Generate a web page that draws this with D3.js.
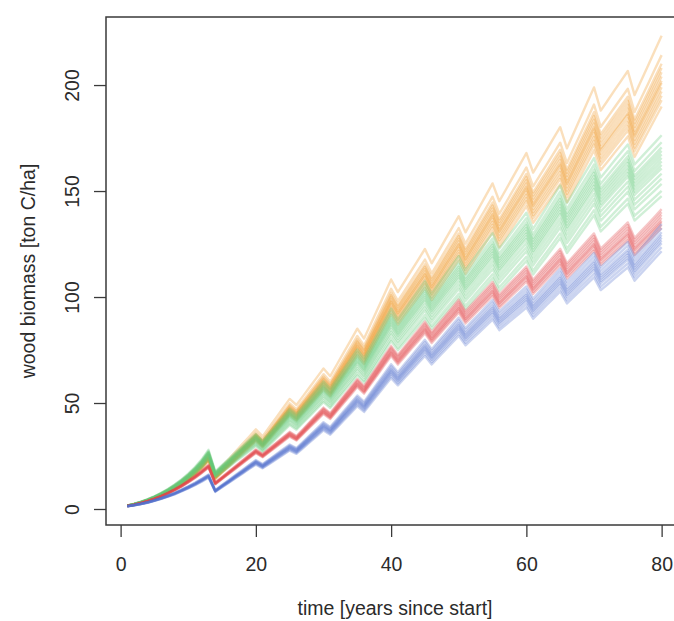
<!DOCTYPE html>
<html>
<head>
<meta charset="utf-8">
<script src="https://cdn.jsdelivr.net/npm/d3@7"></script>
<style>
  html, body { margin: 0; padding: 0; background: #fff; }
  svg { display: block; }
  text { font-family: "Liberation Sans", Arial, Helvetica, sans-serif; fill: #2b2b2b; }
</style>
</head>
<body>
<svg id="chart" width="674" height="621"></svg>
<script>
// Simulation years
const years = d3.range(1, 81);

// Ensemble median wood biomass [ton C/ha] per scenario, years 1..80
const orangeMedian = [
  1.5, 2.2, 3.0, 4.0, 5.2, 6.6, 8.2, 10.0, 12.1, 14.5, 17.2, 20.3, 24.0,
  15.0, 18.2, 21.3, 24.5, 27.7, 30.8, 34.0,
  31.0, 35.0, 39.0, 43.0, 47.0,
  44.4, 48.3, 52.2, 56.1, 60.0,
  56.7, 61.8, 66.9, 71.9, 77.0,
  72.8, 79.1, 85.4, 91.7, 98.0,
  92.6, 97.2, 101.8, 106.4, 111.0,
  104.9, 109.9, 115.0, 120.0, 125.0,
  118.1, 123.3, 128.6, 133.8, 139.0,
  131.4, 136.5, 141.7, 146.8, 152.0,
  143.6, 148.5, 153.3, 158.2, 163.0,
  154.0, 160.5, 167.0, 173.5, 180.0,
  170.1, 174.3, 178.6, 182.8, 187.0,
  176.7, 183.0, 189.3, 195.7, 202.0
];
const greenMedian = [
  1.5, 2.3, 3.2, 4.3, 5.6, 7.1, 8.8, 10.8, 13.0, 15.5, 18.4, 21.8, 26.0,
  16.5, 19.3, 22.0, 24.8, 27.5, 30.3, 33.0,
  30.0, 33.5, 37.0, 40.5, 44.0,
  41.6, 45.2, 48.8, 52.4, 56.0,
  52.9, 57.2, 61.5, 65.7, 70.0,
  66.2, 71.6, 77.1, 82.5, 88.0,
  83.2, 87.4, 91.6, 95.8, 100.0,
  94.5, 98.6, 102.8, 106.9, 111.0,
  104.9, 108.9, 113.0, 117.0, 121.0,
  114.3, 118.2, 122.2, 126.1, 130.0,
  122.9, 127.7, 132.4, 137.2, 142.0,
  134.2, 139.1, 144.1, 149.0, 154.0,
  145.5, 149.1, 152.8, 156.4, 160.0,
  151.2, 154.4, 157.6, 160.8, 164.0
];
const redMedian = [
  1.4, 2.0, 2.8, 3.7, 4.8, 6.0, 7.4, 9.0, 10.8, 12.8, 15.0, 17.4, 20.0,
  12.0, 14.5, 17.0, 19.5, 22.0, 24.5, 27.0,
  25.0, 27.5, 30.0, 32.5, 35.0,
  33.1, 36.3, 39.6, 42.8, 46.0,
  43.5, 47.4, 51.3, 55.1, 59.0,
  55.8, 60.4, 64.9, 69.5, 74.0,
  69.9, 73.7, 77.5, 81.2, 85.0,
  80.3, 84.0, 87.7, 91.3, 95.0,
  89.8, 93.1, 96.4, 99.7, 103.0,
  97.3, 100.5, 103.7, 106.8, 110.0,
  104.0, 107.5, 111.0, 114.5, 118.0,
  111.5, 114.9, 118.3, 121.6, 125.0,
  118.1, 121.1, 124.0, 127.0, 130.0,
  122.9, 126.2, 129.4, 132.7, 136.0
];
const blueMedian = [
  1.3, 1.8, 2.4, 3.1, 4.0, 5.0, 6.1, 7.3, 8.7, 10.2, 11.8, 13.6, 15.5,
  8.5, 10.8, 13.0, 15.3, 17.5, 19.8, 22.0,
  20.2, 22.4, 24.6, 26.8, 29.0,
  27.4, 30.3, 33.2, 36.1, 39.0,
  36.9, 40.4, 44.0, 47.5, 51.0,
  48.2, 52.4, 56.6, 60.8, 65.0,
  61.4, 65.1, 68.7, 72.4, 76.0,
  71.8, 75.4, 78.9, 82.5, 86.0,
  81.3, 84.5, 87.6, 90.8, 94.0,
  88.8, 91.6, 94.4, 97.2, 100.0,
  94.5, 97.9, 101.3, 104.6, 108.0,
  102.1, 105.3, 108.6, 111.8, 115.0,
  108.7, 111.5, 114.4, 117.2, 120.0,
  113.4, 117.1, 120.7, 124.4, 128.0
];

// Relative level of each ensemble member against its scenario median
const orangeSpread = [1.105, 1.06, 1.04, 1.03, 1.02, 1.01, 1.0, 0.995, 0.985, 0.975, 0.965, 0.955, 0.94];
const greenSpread  = [1.075, 1.055, 1.04, 1.03, 1.02, 1.01, 1.0, 0.99, 0.98, 0.965, 0.95, 0.935, 0.915, 0.9];
const redSpread    = [1.04, 1.03, 1.02, 1.01, 1.0, 0.995, 0.985, 0.975];
const blueSpread   = [1.05, 1.035, 1.02, 1.01, 1.0, 0.99, 0.98, 0.965, 0.95];

const xTicks = [0, 20, 40, 60, 80];
const yTicks = [0, 50, 100, 150, 200];

const scenarios = [
  { median: orangeMedian, spread: orangeSpread, color: "#ee9420" },
  { median: greenMedian,  spread: greenSpread,  color: "#62c97c" },
  { median: redMedian,    spread: redSpread,    color: "#e0474a" },
  { median: blueMedian,   spread: blueSpread,   color: "#5270cc" }
];

const svg = d3.select("#chart");
const plot = { left: 106, top: 17, right: 683, bottom: 525 };

const x = d3.scaleLinear().domain([-2.16, 83.16]).range([plot.left, plot.right]);
const y = d3.scaleLinear().domain([-7.55, 232.1]).range([plot.bottom, plot.top]);

const line = d3.line()
  .x((d, i) => x(years[i]))
  .y(d => y(d));

// ensemble lines, one path per member
const gLines = svg.append("g");
scenarios.forEach(s => {
  s.spread.forEach(f => {
    gLines.append("path")
      .datum(s.median.map(v => v * f))
      .attr("d", line)
      .attr("fill", "none")
      .attr("stroke", s.color)
      .attr("stroke-width", 2.4)
      .attr("stroke-opacity", 0.3)
      .attr("stroke-linejoin", "round");
  });
});

// plot frame
svg.append("rect")
  .attr("x", plot.left).attr("y", plot.top)
  .attr("width", plot.right - plot.left).attr("height", plot.bottom - plot.top)
  .attr("fill", "none").attr("stroke", "#3a3a3a").attr("stroke-width", 1.5);

// x axis
const xAxis = svg.append("g")
  .attr("transform", `translate(0,${plot.bottom})`)
  .call(d3.axisBottom(x).tickValues(xTicks).tickSize(12).tickPadding(20).tickFormat(d3.format("d")));
xAxis.select(".domain").remove();
xAxis.selectAll("line").attr("stroke", "#3a3a3a").attr("stroke-width", 1.3);
xAxis.selectAll("text").attr("font-size", 19.5).style("fill", "#2b2b2b");

// y axis
const yAxis = svg.append("g")
  .attr("transform", `translate(${plot.left},0)`)
  .call(d3.axisLeft(y).tickValues(yTicks).tickSize(12).tickPadding(0).tickFormat(d3.format("d")));
yAxis.select(".domain").remove();
yAxis.selectAll("line").attr("stroke", "#3a3a3a").attr("stroke-width", 1.3);
yAxis.selectAll("text")
  .attr("font-size", 19.5)
  .attr("text-anchor", "middle")
  .attr("x", null).attr("dy", null)
  .attr("transform", "translate(-27,0) rotate(-90)")
  .style("fill", "#2b2b2b");

// axis titles
svg.append("text")
  .attr("x", 395).attr("y", 615)
  .attr("text-anchor", "middle")
  .attr("font-size", 19.5)
  .text("time [years since start]");

svg.append("text")
  .attr("transform", "translate(35,271) rotate(-90)")
  .attr("text-anchor", "middle")
  .attr("font-size", 19.5)
  .text("wood biomass [ton C/ha]");
</script>
</body>
</html>
